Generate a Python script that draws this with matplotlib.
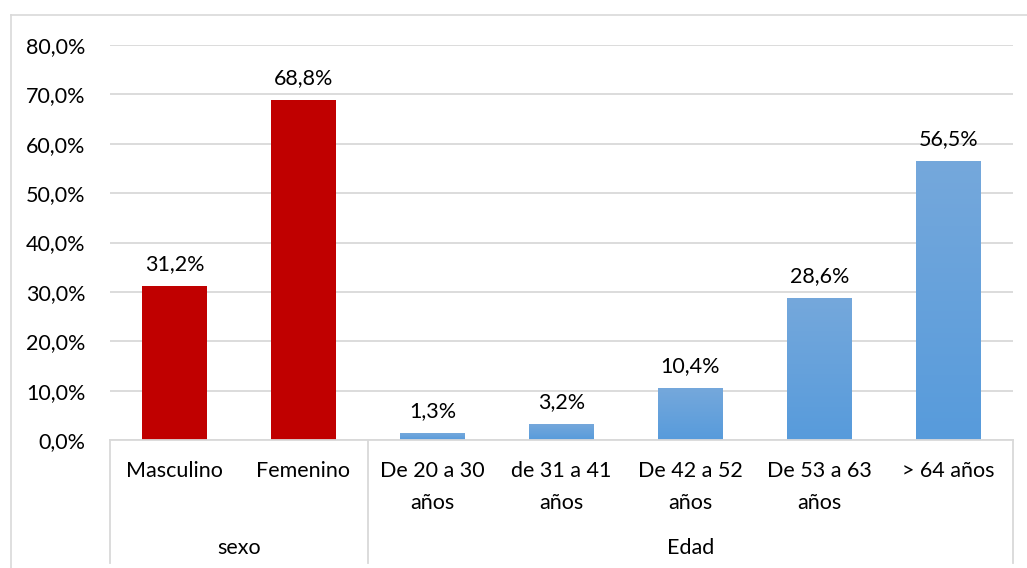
import numpy as np
import matplotlib.pyplot as plt
from matplotlib.lines import Line2D
from matplotlib.patches import Rectangle

plt.rcParams['font.family'] = ['Lato', 'DejaVu Sans']

# Data
categories = ["Masculino", "Femenino", "De 20 a 30\naños", "de 31 a 41\naños",
              "De 42 a 52\naños", "De 53 a 63\naños", "> 64 años"]
groups = ["sexo", "Edad"]
group_sizes = [2, 5]
values = [31.2, 68.8, 1.3, 3.2, 10.4, 28.6, 56.5]
y_ticks = [0, 10, 20, 30, 40, 50, 60, 70, 80]

red = "#c00000"
blue_top = np.array([0x75, 0xa8, 0xdb]) / 255
blue_bot = np.array([0x57, 0x9b, 0xdc]) / 255
grid_c = "#d9d9d9"
txt_c = "#000000"
fs = 15.5

W, H = 1027, 568
fig = plt.figure(figsize=(W / 100, H / 100), dpi=100)

# Outer chart frame
fig.add_artist(Line2D([11 / W, 11 / W], [0, 1 - 15 / H], color=grid_c, lw=1.2))
fig.add_artist(Line2D([11 / W, 1], [1 - 15 / H, 1 - 15 / H], color=grid_c, lw=1.2))

left, right, top, bottom = 110, 1013, 45, 440
ax = fig.add_axes([left / W, 1 - bottom / H, (right - left) / W, (bottom - top) / H])
ax.set_xlim(-0.5, len(categories) - 0.5)
ax.set_ylim(0, 80)
for s in ax.spines.values():
    s.set_visible(False)
ax.set_yticks(y_ticks)
ax.set_yticklabels([f"{t:.1f}%".replace(".", ",") for t in y_ticks], fontsize=fs, color=txt_c)
ax.tick_params(axis='y', length=0, pad=17.5)
ax.set_xticks([])
ax.grid(axis='y', color=grid_c, lw=1.3)
ax.set_axisbelow(True)

bw = 0.5
grad = np.linspace(0, 1, 256)[:, None]
grad_img = blue_bot[None, None, :] * (1 - grad[..., None]) + blue_top[None, None, :] * grad[..., None]
grad_img = grad_img.reshape(256, 1, 3)

n_first = group_sizes[0]
for i, v in enumerate(values):
    if i < n_first:
        ax.add_patch(Rectangle((i - bw / 2, 0), bw, v, color=red, zorder=3, lw=0))
    else:
        ax.imshow(grad_img, extent=[i - bw / 2, i + bw / 2, 0, v], origin='lower',
                  aspect='auto', zorder=3, interpolation='bilinear')
    ax.text(i, v + 2.5, f"{v:.1f}%".replace(".", ","), ha='center', va='bottom',
            fontsize=fs, color=txt_c, zorder=4)
ax.set_xlim(-0.5, len(categories) - 0.5)
ax.set_ylim(0, 80)

# Category axis with two levels


def yfrac(pix_below):
    return -pix_below / (bottom - top)


trans = ax.get_xaxis_transform()
ax.plot([-0.5, len(categories) - 0.5], [0, 0], transform=trans, color=grid_c, lw=1.3,
        clip_on=False, zorder=5)
bounds = [-0.5]
for g in group_sizes:
    bounds.append(bounds[-1] + g)
for b in bounds:
    ax.plot([b, b], [0, yfrac(123)], transform=trans, color=grid_c, lw=1.3, clip_on=False)

for i, c in enumerate(categories):
    ax.text(i, yfrac(21), c, transform=trans, ha='center', va='top', fontsize=fs,
            color=txt_c, linespacing=1.72)

for g, (a, b) in zip(groups, zip(bounds[:-1], bounds[1:])):
    ax.text((a + b) / 2, yfrac(108), g, transform=trans, ha='center', va='center',
            fontsize=fs, color=txt_c)

fig.savefig("out.png", dpi=100)
